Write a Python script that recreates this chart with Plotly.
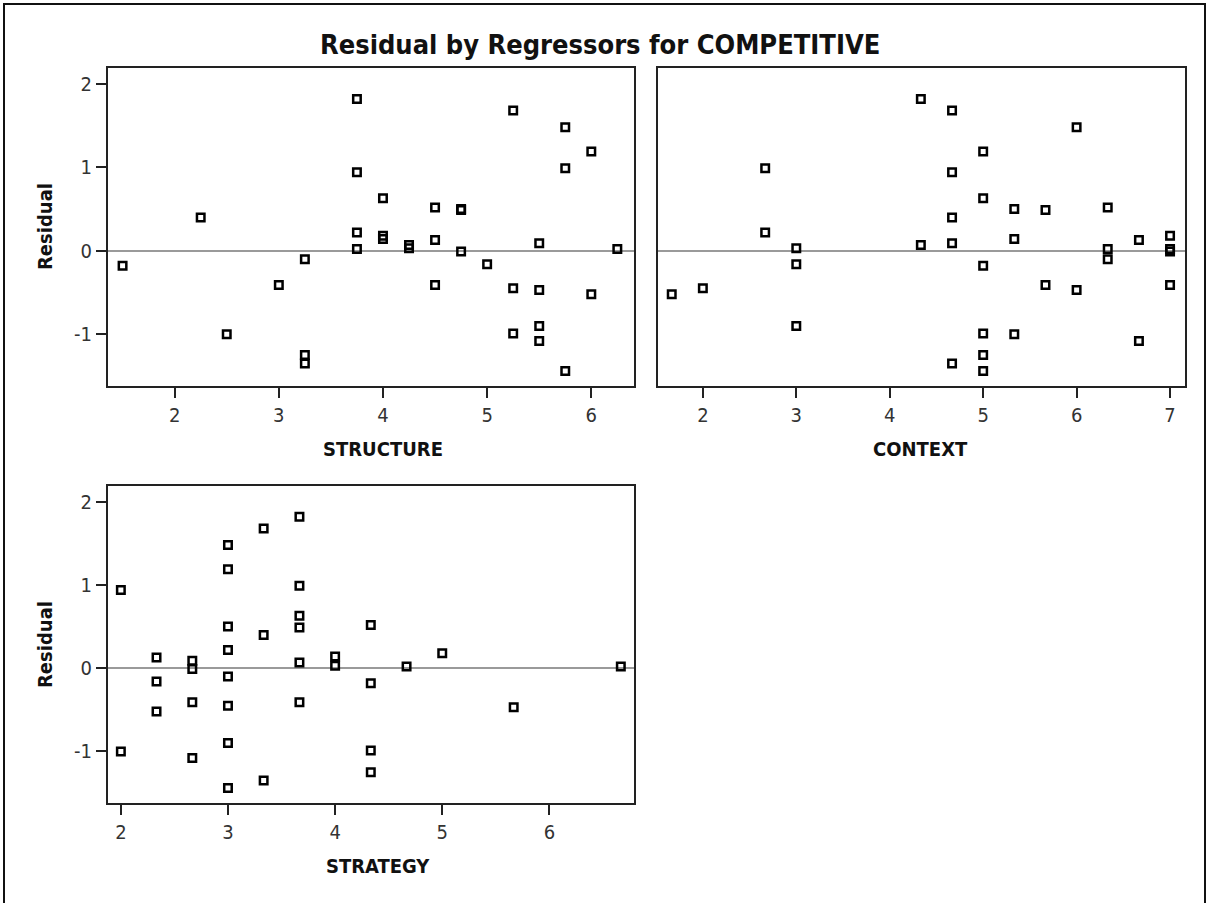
import plotly.graph_objects as go

# Residuals of the COMPETITIVE model, one value per observation
residual = [1.82, 1.68, 1.48, 1.19, 0.99, 0.94, 0.63, 0.52, 0.50, 0.49,
            0.40, 0.22, 0.18, 0.14, 0.13, 0.09, 0.07, 0.03, 0.02, 0.02,
            -0.01, -0.10, -0.16, -0.18, -0.41, -0.41, -0.45, -0.47, -0.52, -0.90,
            -0.99, -1.00, -1.08, -1.25, -1.35, -1.44]

# Regressor values for the same observations
structure = [3.75, 5.25, 5.75, 6.00, 5.75, 3.75, 4.00, 4.50, 4.75, 4.75,
             2.25, 3.75, 4.00, 4.00, 4.50, 5.50, 4.25, 4.25, 3.75, 6.25,
             4.75, 3.25, 5.00, 1.50, 3.00, 4.50, 5.25, 5.50, 6.00, 5.50,
             5.25, 2.50, 5.50, 3.25, 3.25, 5.75]

context = [4.333, 4.667, 6.000, 5.000, 2.667, 4.667, 5.000, 6.333, 5.333, 5.667,
           4.667, 2.667, 7.000, 5.333, 6.667, 4.667, 4.333, 3.000, 6.333, 7.000,
           7.000, 6.333, 3.000, 5.000, 5.667, 7.000, 2.000, 6.000, 1.667, 3.000,
           5.000, 5.333, 6.667, 5.000, 4.667, 5.000]

strategy = [3.667, 3.333, 3.000, 3.000, 3.667, 2.000, 3.667, 4.333, 3.000, 3.667,
            3.333, 3.000, 5.000, 4.000, 2.333, 2.667, 3.667, 4.000, 4.667, 6.667,
            2.667, 3.000, 2.333, 4.333, 2.667, 3.667, 3.000, 5.667, 2.333, 3.000,
            4.333, 2.000, 2.667, 4.333, 3.333, 3.000]

y_ticks = [-1, 0, 1, 2]
y_tick_text = ["-1", "0", "1", "2"]
structure_ticks = [2, 3, 4, 5, 6]
context_ticks = [2, 3, 4, 5, 6, 7]
strategy_ticks = [2, 3, 4, 5, 6]

W, H = 1208, 903
NARROW = "DejaVu Sans Condensed, Liberation Sans Narrow, Arial Narrow, Liberation Sans, sans-serif"


def px_x(v):
    return v / W


def px_y(v):
    return 1 - v / H


fig = go.Figure()

marker = dict(symbol="square-open", size=7.5, color="black", line=dict(width=2.5, color="black"))
for xs, xa, ya in [(structure, "x", "y"), (context, "x2", "y2"), (strategy, "x3", "y3")]:
    fig.add_trace(go.Scatter(x=xs, y=residual, mode="markers", marker=marker,
                             xaxis=xa, yaxis=ya, showlegend=False, hoverinfo="x+y"))

axis_common = dict(
    showline=True, linecolor="#222", linewidth=2, mirror=True,
    showgrid=False, ticks="outside", ticklen=10, tickwidth=2, tickcolor="#222",
    tickfont=dict(family=NARROW, size=20, color="#333"),
    zeroline=False,
)
yaxis_common = dict(axis_common, range=[-1.62, 2.19], tickvals=y_ticks, ticktext=y_tick_text,
                    zeroline=True, zerolinecolor="#9a9a9a", zerolinewidth=2)

fig.update_layout(
    width=W, height=H,
    margin=dict(l=0, r=0, t=0, b=0),
    paper_bgcolor="white", plot_bgcolor="white",
    xaxis=dict(axis_common, domain=[px_x(108), px_x(634)], range=[1.36, 6.41],
               tickvals=structure_ticks, anchor="y"),
    yaxis=dict(yaxis_common, domain=[px_y(386), px_y(68)], anchor="x"),
    xaxis2=dict(axis_common, domain=[px_x(658), px_x(1185)], range=[1.52, 7.16],
                tickvals=context_ticks, anchor="y2"),
    yaxis2=dict(yaxis_common, domain=[px_y(386), px_y(68)], anchor="x2",
                showticklabels=False, ticks=""),
    xaxis3=dict(axis_common, domain=[px_x(108), px_x(634)], range=[1.88, 6.79],
                tickvals=strategy_ticks, anchor="y3"),
    yaxis3=dict(yaxis_common, domain=[px_y(803), px_y(486)], anchor="x3"),
)

title_font = dict(family=NARROW, size=20, color="#111")
annotations = [
    dict(text="<b>Residual by Regressors for COMPETITIVE</b>", x=px_x(600), y=px_y(45),
         font=dict(family=NARROW, size=27, color="#111")),
    dict(text="<b>STRUCTURE</b>", x=px_x(383), y=px_y(449), font=title_font),
    dict(text="<b>CONTEXT</b>", x=px_x(920), y=px_y(449), font=title_font),
    dict(text="<b>STRATEGY</b>", x=px_x(378), y=px_y(866), font=title_font),
    dict(text="<b>Residual</b>", x=px_x(45), y=px_y(227), textangle=-90, font=title_font),
    dict(text="<b>Residual</b>", x=px_x(45), y=px_y(645), textangle=-90, font=title_font),
]
for a in annotations:
    a.update(xref="paper", yref="paper", showarrow=False, xanchor="center", yanchor="middle")
fig.update_layout(annotations=annotations)

# Outer frame around the whole graphic
fig.add_shape(type="rect", xref="paper", yref="paper",
              x0=px_x(4), x1=px_x(1205), y0=-0.05, y1=px_y(4),
              line=dict(color="#111", width=2), fillcolor="rgba(0,0,0,0)", layer="below")

fig.write_html("out.html")
